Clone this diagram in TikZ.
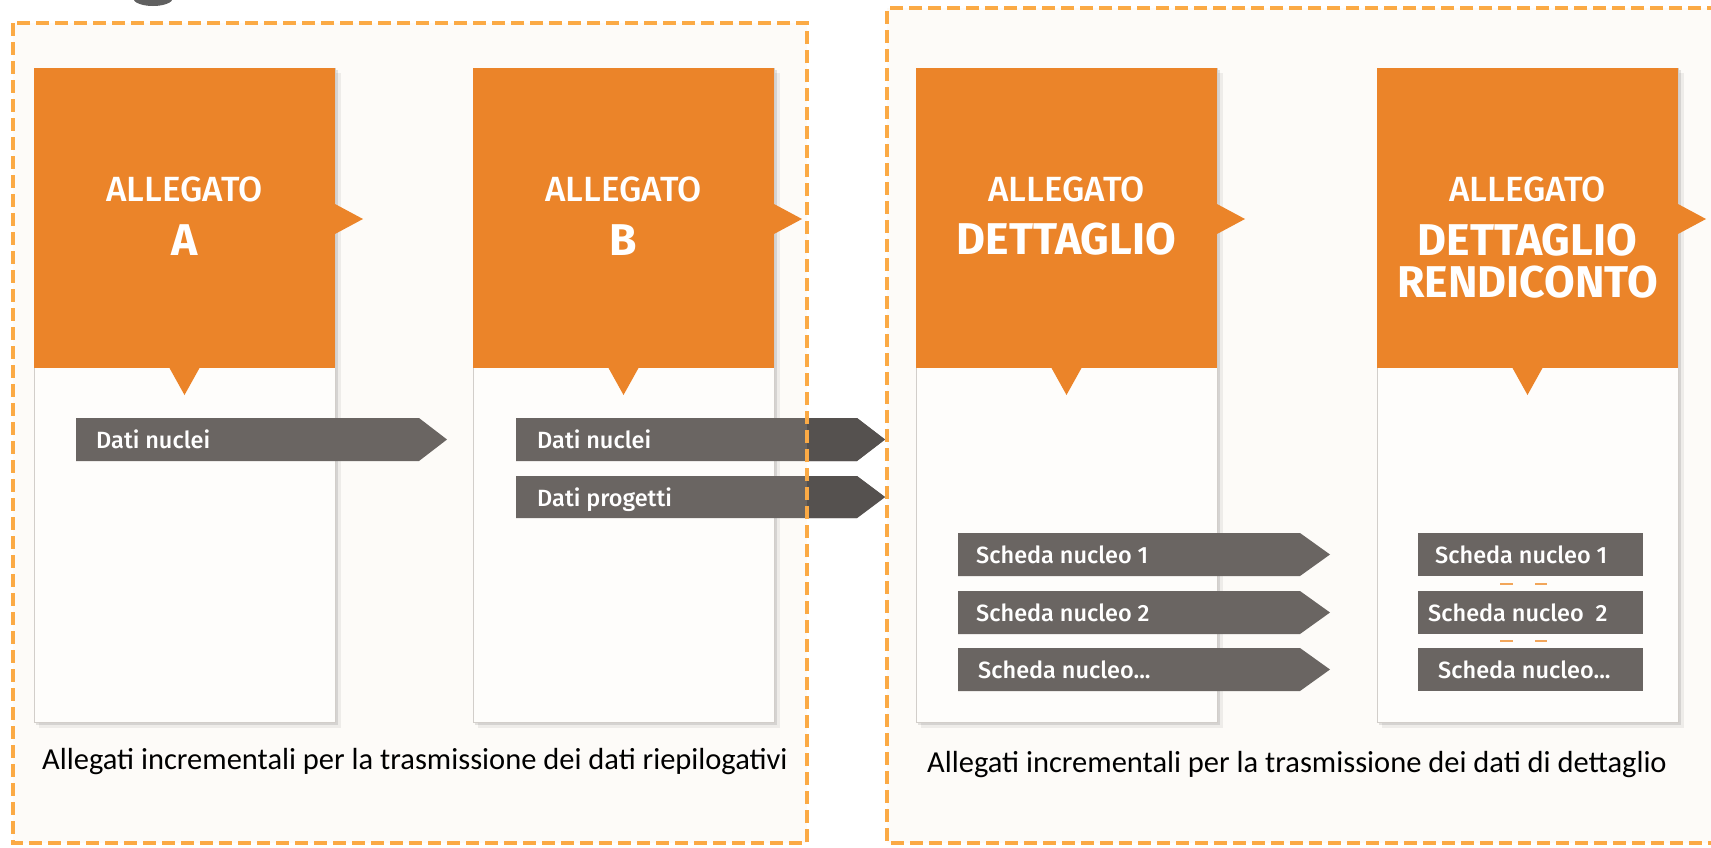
\documentclass[tikz,border=0pt]{standalone}
\usepackage{fontspec}
\setmainfont{Carlito}
\newfontfamily\cardfont{Fira Sans}[UprightFont={* Medium}, BoldFont={* Bold}]
\usetikzlibrary{positioning}
\definecolor{allorange}{HTML}{EB8429}
\definecolor{dashorange}{HTML}{FBAA45}
\definecolor{cream}{HTML}{FDFBF8}
\definecolor{cardfill}{HTML}{FEFDFB}
\definecolor{cardline}{HTML}{D2CECA}
\definecolor{tagGray}{HTML}{6A6562}
\definecolor{tagDark}{HTML}{55514F}
\definecolor{linkorange}{HTML}{F2A65A}
\begin{document}
\begin{tikzpicture}[x=1pt,y=-1pt,
  zone/.style={draw=dashorange, line width=4pt, dash pattern=on 13pt off 6pt},
  card/.style={draw=cardline, line width=1pt, fill=cardfill, minimum width=301pt,
    minimum height=654pt, anchor=north west, inner sep=0pt},
  head/.style={fill=allorange},
  kind/.style={text=white, font=\cardfont\fontsize{35}{35}\selectfont, anchor=base, inner sep=0pt},
  title/.style={text=white, font=\cardfont\bfseries\fontsize{44.5}{44.5}\selectfont, anchor=base, inner sep=0pt},
  tagtext/.style={text=white, font=\cardfont\fontsize{23.5}{24}\selectfont, anchor=base west, inner sep=0pt},
  caption/.style={font=\fontsize{30.5}{31}\selectfont, anchor=base west, inner sep=0pt}]
\useasboundingbox (0,0) rectangle (1711,847);
\fill[white] (0,0) rectangle (1711,847);
% the two zones
\fill[cream] (13,23) rectangle (807,843);
\fill[cream] (887,8) rectangle (1720,843);
\fill[gray!75!black] (153,-2) ellipse [x radius=20pt, y radius=8pt];
% cards
\foreach \x/\n in {34/A,473/B,916/C,1377/D} {
  \fill[black, opacity=0.06] (\x+5,73) rectangle (\x+307,728);
  \fill[black, opacity=0.10] (\x+2,70) rectangle (\x+304,725);
  \node[card] (card\n) at (\x,68) {};
  \fill[head] (card\n.north west) rectangle ++(301,300);
  \fill[head] (\x+301,204) -- (\x+329,219) -- (\x+301,234) -- cycle;
  \fill[head] (\x+135.5,368) -- (\x+150.5,395) -- (\x+165.5,368) -- cycle;
}
% headers
\node[kind] (kindA) at (184.5,201) {ALLEGATO};
\node[title] (nameA) at (184.5,255) {A};
\node[kind] (kindB) at (623.5,201) {ALLEGATO};
\node[title] (nameB) at (623.5,255) {B};
\node[kind] (kindC) at (1066.5,201) {ALLEGATO};
\node[title] (nameC) at (1066.5,254) {DETTAGLIO};
\node[kind] (kindD) at (1527.5,201) {ALLEGATO};
\node[title] (nameD) at (1527.5,255) {DETTAGLIO};
\node[title] (nameD2) at (1527.5,297) {RENDICONTO};
% data tags
\fill[tagGray] (76,418) -- (419,418) -- (447,439.5) -- (419,461) -- (76,461) -- cycle;
\fill[tagGray] (516,418) -- (857,418) -- (885,439.5) -- (857,461) -- (516,461) -- cycle;
\fill[tagGray] (516,476) -- (857,476) -- (885,497) -- (857,518) -- (516,518) -- cycle;
\begin{scope}
\clip (807,0) rectangle (1711,847);
\fill[tagDark] (516,418) -- (857,418) -- (885,439.5) -- (857,461) -- (516,461) -- cycle;
\fill[tagDark] (516,476) -- (857,476) -- (885,497) -- (857,518) -- (516,518) -- cycle;
\end{scope}
\foreach \y in {533,591,648} {
  \fill[tagGray] (958,\y) -- (1300,\y) -- (1330,\y+21.5) -- (1300,\y+43) -- (958,\y+43) -- cycle;
  \fill[tagGray] (1418,\y) rectangle (1643,\y+43);
}
\node[tagtext] (nucA) at (96,448) {Dati nuclei};
\node[tagtext] (nucB) at (537,448) {Dati nuclei};
\node[tagtext] (proB) at (537,506) {Dati progetti};
\node[tagtext] (schC1) at (976,563) {Scheda nucleo 1};
\node[tagtext] (schC2) at (976,621) {Scheda nucleo 2};
\node[tagtext] (schC3) at (978,678) {Scheda nucleo...};
\node[tagtext] (schD1) at (1435,563) {Scheda nucleo 1};
\node[tagtext] (schD2) at (1428,621) {Scheda nucleo\ \ 2};
\node[tagtext] (schD3) at (1438,678) {Scheda nucleo...};
\foreach \y in {583.5,640.5} {
  \draw[linkorange, line width=2pt] (1500,\y) -- (1513,\y);
  \draw[linkorange, line width=2pt] (1535,\y) -- (1547,\y);
}
% captions
\node[caption] (capL) at (42,769) {Allegati incrementali per la trasmissione dei dati riepilogativi};
\node[caption] (capR) at (927,772) {Allegati incrementali per la trasmissione dei dati di dettaglio};
% dashed borders on top
\draw[zone] (13,23) rectangle (807,843);
\draw[zone] (1720,8) -- (887,8) -- (887,843) -- (1720,843);
\end{tikzpicture}
\end{document}
